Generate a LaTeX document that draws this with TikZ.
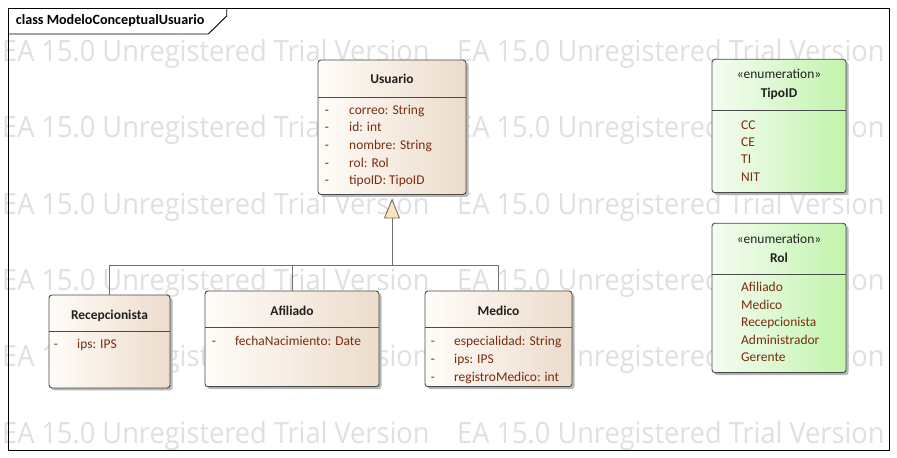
\documentclass[tikz,border=0pt]{standalone}
\usepackage{fontspec}
\setmainfont{Carlito}
\newfontfamily\wmfont{Open Sans}[FakeStretch=0.928]
\usetikzlibrary{arrows.meta,shadows}
\definecolor{clsleft}{RGB}{255,252,248}
\definecolor{clsright}{RGB}{236,220,204}
\definecolor{enumleft}{RGB}{246,252,242}
\definecolor{enumright}{RGB}{192,244,172}
\definecolor{attrcol}{RGB}{122,44,14}
\definecolor{titlecol}{RGB}{32,32,32}
\definecolor{wmgray}{RGB}{224,224,224}
\definecolor{edgegray}{RGB}{112,112,112}
\definecolor{boxborder}{RGB}{74,74,74}
\definecolor{genfill}{RGB}{250,228,186}
\tikzset{
  umlbox/.style={draw=boxborder,line width=0.9bp,rounded corners=3bp,inner sep=0pt,outer sep=0pt,anchor=north west,
    drop shadow={shadow xshift=2.5bp,shadow yshift=-2.5bp,fill=black!28,opacity=1}},
  classbox/.style={umlbox,left color=clsleft,right color=clsright},
  enumbox/.style={umlbox,left color=enumleft,right color=enumright},
  sepline/.style={draw=boxborder,line width=0.9bp},
  classtitle/.style={font=\bfseries\fontsize{13.5}{16}\selectfont,text=titlecol,anchor=base,inner sep=0pt},
  stereo/.style={font=\fontsize{13.5}{16}\selectfont,text=titlecol,anchor=base,inner sep=0pt},
  attr/.style={font=\fontsize{13.5}{16}\selectfont,text=attrcol,anchor=base west,inner sep=0pt},
  vis/.style={font=\fontsize{13.5}{16}\selectfont,text=attrcol,anchor=base,inner sep=0pt},
  wmark/.style={font=\wmfont\fontsize{29.4}{34}\selectfont,text=wmgray,anchor=base west,inner sep=0pt},
  genline/.style={draw=edgegray,line width=0.9bp},
}
\begin{document}
\begin{tikzpicture}[>=latex,line join=bevel,]
\useasboundingbox (0bp,0bp) rectangle (897bp,458bp);
\fill [white] (0bp,0bp) rectangle (897bp,458bp);
%% watermark
\node (node_wm_1a) at (2bp,396bp) [wmark] {EA 15.0 Unregistered Trial Version};
\node (node_wm_1b) at (457bp,396bp) [wmark] {EA 15.0 Unregistered Trial Version};
\node (node_wm_2a) at (2bp,320bp) [wmark] {EA 15.0 Unregistered Trial Version};
\node (node_wm_2b) at (457bp,320bp) [wmark] {EA 15.0 Unregistered Trial Version};
\node (node_wm_3a) at (2bp,243.5bp) [wmark] {EA 15.0 Unregistered Trial Version};
\node (node_wm_3b) at (457bp,243.5bp) [wmark] {EA 15.0 Unregistered Trial Version};
\node (node_wm_4a) at (2bp,167.5bp) [wmark] {EA 15.0 Unregistered Trial Version};
\node (node_wm_4b) at (457bp,167.5bp) [wmark] {EA 15.0 Unregistered Trial Version};
\node (node_wm_5a) at (2bp,91bp) [wmark] {EA 15.0 Unregistered Trial Version};
\node (node_wm_5b) at (457bp,91bp) [wmark] {EA 15.0 Unregistered Trial Version};
\node (node_wm_6a) at (2bp,15bp) [wmark] {EA 15.0 Unregistered Trial Version};
\node (node_wm_6b) at (457bp,15bp) [wmark] {EA 15.0 Unregistered Trial Version};
%% frame
\draw [black,line width=0.9bp] (8.3bp,7.3bp) rectangle (889bp,449.7bp);
\draw [black,line width=0.9bp] (8.3bp,424bp) -- (208.3bp,424bp) -- (226.7bp,442bp) -- (226.7bp,449.7bp);
\node (node_frame) at (15.7bp,433bp) [anchor=base west,inner sep=0pt,font=\bfseries\fontsize{14.2}{16}\selectfont,text=black] {class ModeloConceptualUsuario};
%% Usuario
\node (node_usuario) at (318bp,398bp) [classbox,minimum width=148bp,minimum height=134.5bp] {};
\draw [sepline] (node_usuario.west |- 0,361bp) -- (node_usuario.east |- 0,361bp);
\node (node_usuario_t) at (392bp,374.5bp) [classtitle] {Usuario};
\node (node_usuario_v1) at (327bp,343.7bp) [vis] {-};
\node (node_usuario_a1) at (349bp,343.7bp) [attr] {correo: String};
\node (node_usuario_v2) at (327bp,326.1bp) [vis] {-};
\node (node_usuario_a2) at (349bp,326.1bp) [attr] {id: int};
\node (node_usuario_v3) at (327bp,308.5bp) [vis] {-};
\node (node_usuario_a3) at (349bp,308.5bp) [attr] {nombre: String};
\node (node_usuario_v4) at (327bp,290.9bp) [vis] {-};
\node (node_usuario_a4) at (349bp,290.9bp) [attr] {rol: Rol};
\node (node_usuario_v5) at (327bp,273.3bp) [vis] {-};
\node (node_usuario_a5) at (349bp,273.3bp) [attr] {tipoID: TipoID};
%% Recepcionista
\node (node_recepcionista) at (49bp,163bp) [classbox,minimum width=121bp,minimum height=93bp] {};
\draw [sepline] (node_recepcionista.west |- 0,127bp) -- (node_recepcionista.east |- 0,127bp);
\node (node_recepcionista_t) at (109.5bp,138bp) [classtitle] {Recepcionista};
\node (node_recepcionista_v1) at (56bp,109bp) [vis] {-};
\node (node_recepcionista_a1) at (77bp,109bp) [attr] {ips: IPS};
%% Afiliado
\node (node_afiliado) at (205bp,167bp) [classbox,minimum width=174bp,minimum height=95.7bp] {};
\draw [sepline] (node_afiliado.west |- 0,131bp) -- (node_afiliado.east |- 0,131bp);
\node (node_afiliado_t) at (292bp,142bp) [classtitle] {Afiliado};
\node (node_afiliado_v1) at (214bp,112bp) [vis] {-};
\node (node_afiliado_a1) at (235bp,112bp) [attr] {fechaNacimiento: Date};
%% Medico
\node (node_medico) at (425bp,167bp) [classbox,minimum width=147bp,minimum height=95.7bp] {};
\draw [sepline] (node_medico.west |- 0,131bp) -- (node_medico.east |- 0,131bp);
\node (node_medico_t) at (498.5bp,142bp) [classtitle] {Medico};
\node (node_medico_v1) at (433bp,112bp) [vis] {-};
\node (node_medico_a1) at (454bp,112bp) [attr] {especialidad: String};
\node (node_medico_v2) at (433bp,94.3bp) [vis] {-};
\node (node_medico_a2) at (454bp,94.3bp) [attr] {ips: IPS};
\node (node_medico_v3) at (433bp,76.6bp) [vis] {-};
\node (node_medico_a3) at (454bp,76.6bp) [attr] {registroMedico: int};
%% TipoID
\node (node_tipoid) at (712bp,398.7bp) [enumbox,minimum width=134bp,minimum height=133.4bp] {};
\draw [sepline] (node_tipoid.west |- 0,348bp) -- (node_tipoid.east |- 0,348bp);
\node (node_tipoid_s) at (779bp,379bp) [stereo] {«enumeration»};
\node (node_tipoid_t) at (779bp,360.7bp) [classtitle] {TipoID};
\node (node_tipoid_l1) at (741bp,328.7bp) [attr] {CC};
\node (node_tipoid_l2) at (741bp,311.3bp) [attr] {CE};
\node (node_tipoid_l3) at (741bp,294bp) [attr] {TI};
\node (node_tipoid_l4) at (741bp,276.7bp) [attr] {NIT};
%% Rol
\node (node_rol) at (712bp,234.7bp) [enumbox,minimum width=134bp,minimum height=149.4bp] {};
\draw [sepline] (node_rol.west |- 0,184bp) -- (node_rol.east |- 0,184bp);
\node (node_rol_s) at (779bp,214bp) [stereo] {«enumeration»};
\node (node_rol_t) at (779bp,195.7bp) [classtitle] {Rol};
\node (node_rol_l1) at (741bp,166.3bp) [attr] {Afiliado};
\node (node_rol_l2) at (741bp,148.8bp) [attr] {Medico};
\node (node_rol_l3) at (741bp,131.3bp) [attr] {Recepcionista};
\node (node_rol_l4) at (741bp,113.8bp) [attr] {Administrador};
\node (node_rol_l5) at (741bp,96.3bp) [attr] {Gerente};
%% generalization
\coordinate (gen_join) at (392bp,192.7bp);
\draw [genline] (node_recepcionista.north) |- (gen_join);
\draw [genline] (node_afiliado.north) |- (gen_join);
\draw [genline] (node_medico.north) |- (gen_join);
\draw [genline,-{Triangle[length=20bp,width=16bp,fill=genfill]},shorten >=4bp] (gen_join) -- (node_usuario.south);
%
\end{tikzpicture}
\end{document}
